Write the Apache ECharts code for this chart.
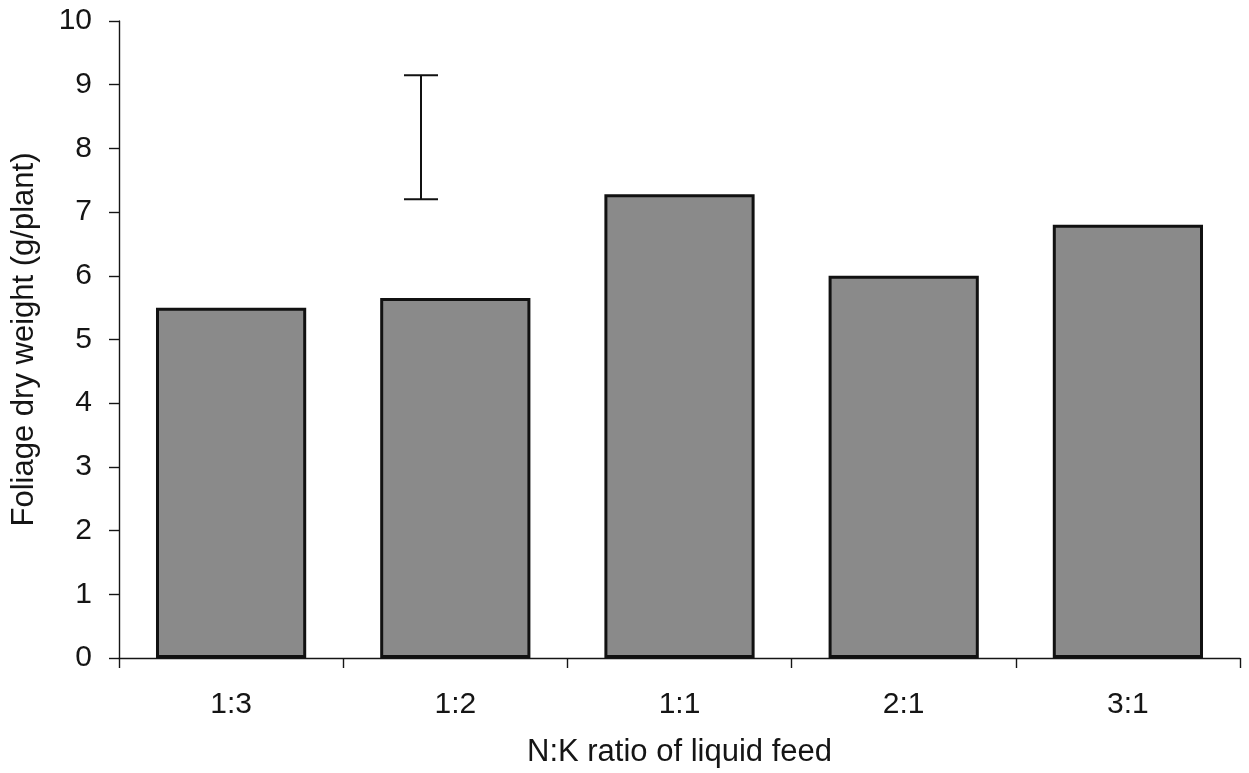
<!DOCTYPE html>
<html>
<head>
<meta charset="utf-8">
<title>Foliage dry weight by N:K ratio</title>
<script src="https://cdn.jsdelivr.net/npm/echarts@6/dist/echarts.min.js"></script>
<style>
  html, body { margin: 0; padding: 0; background: #ffffff; }
  #chart { width: 1249px; height: 773px; }
</style>
</head>
<body>
<div id="chart"></div>
<script>
// N:K ratio of the liquid feed
const ratios = ['1:3', '1:2', '1:1', '2:1', '3:1'];
// Mean foliage dry weight, g per plant
const dryWeight = [5.5, 5.65, 7.28, 6.0, 6.8];
// Least significant difference bar: [category, low, high]
const lsdBar = ['1:2', 7.2, 9.15];
// Y axis range and step
const yMin = 0, yMax = 10, yStep = 1;

const FONT = '"Liberation Sans", Arial, Helvetica, sans-serif';
const INK = '#151515';

const chart = echarts.init(document.getElementById('chart'), null, { renderer: 'canvas' });

chart.setOption({
  backgroundColor: '#ffffff',
  animation: false,
  grid: { left: 119, right: 9, top: 21, bottom: 115, containLabel: false },
  xAxis: {
    type: 'category',
    data: ratios,
    boundaryGap: true,
    name: 'N:K ratio of liquid feed',
    nameLocation: 'middle',
    nameGap: 79,
    nameTextStyle: { fontFamily: FONT, fontSize: 31, color: INK, verticalAlign: 'top' },
    axisLine: { lineStyle: { color: INK, width: 1.4 } },
    axisTick: { show: true, length: 10, alignWithLabel: false, lineStyle: { color: INK, width: 1.4 } },
    axisLabel: { fontFamily: FONT, fontSize: 30, color: INK, margin: 32 },
    splitLine: { show: false }
  },
  yAxis: {
    type: 'value',
    min: yMin,
    max: yMax,
    interval: yStep,
    name: 'Foliage dry weight (g/plant)',
    nameLocation: 'middle',
    nameGap: 79,
    nameRotate: 90,
    nameTextStyle: { fontFamily: FONT, fontSize: 31, color: INK },
    axisLine: { show: true, lineStyle: { color: INK, width: 1.4 } },
    axisTick: { show: true, inside: false, length: 10, lineStyle: { color: INK, width: 1.4 } },
    axisLabel: { fontFamily: FONT, fontSize: 30, color: INK, margin: 27 },
    splitLine: { show: false }
  },
  series: [
    {
      type: 'bar',
      data: dryWeight,
      barWidth: '67%',
      itemStyle: { color: '#8a8a8a', borderColor: '#111111', borderWidth: 3 },
      z: 2
    },
    {
      type: 'custom',
      data: [lsdBar],
      encode: { x: 0, y: [1, 2] },
      z: 3,
      renderItem: function (params, api) {
        const cat = api.value(0);
        const lo = api.coord([cat, api.value(1)]);
        const hi = api.coord([cat, api.value(2)]);
        const band = api.size([1, 0])[0];
        const x = lo[0] - band * 0.153;
        const cap = 17;
        const style = { stroke: '#111111', lineWidth: 2, fill: null };
        return {
          type: 'group',
          children: [
            { type: 'line', shape: { x1: x, y1: hi[1], x2: x, y2: lo[1] }, style: style },
            { type: 'line', shape: { x1: x - cap, y1: hi[1], x2: x + cap, y2: hi[1] }, style: style },
            { type: 'line', shape: { x1: x - cap, y1: lo[1], x2: x + cap, y2: lo[1] }, style: style }
          ]
        };
      }
    }
  ]
});
</script>
</body>
</html>
